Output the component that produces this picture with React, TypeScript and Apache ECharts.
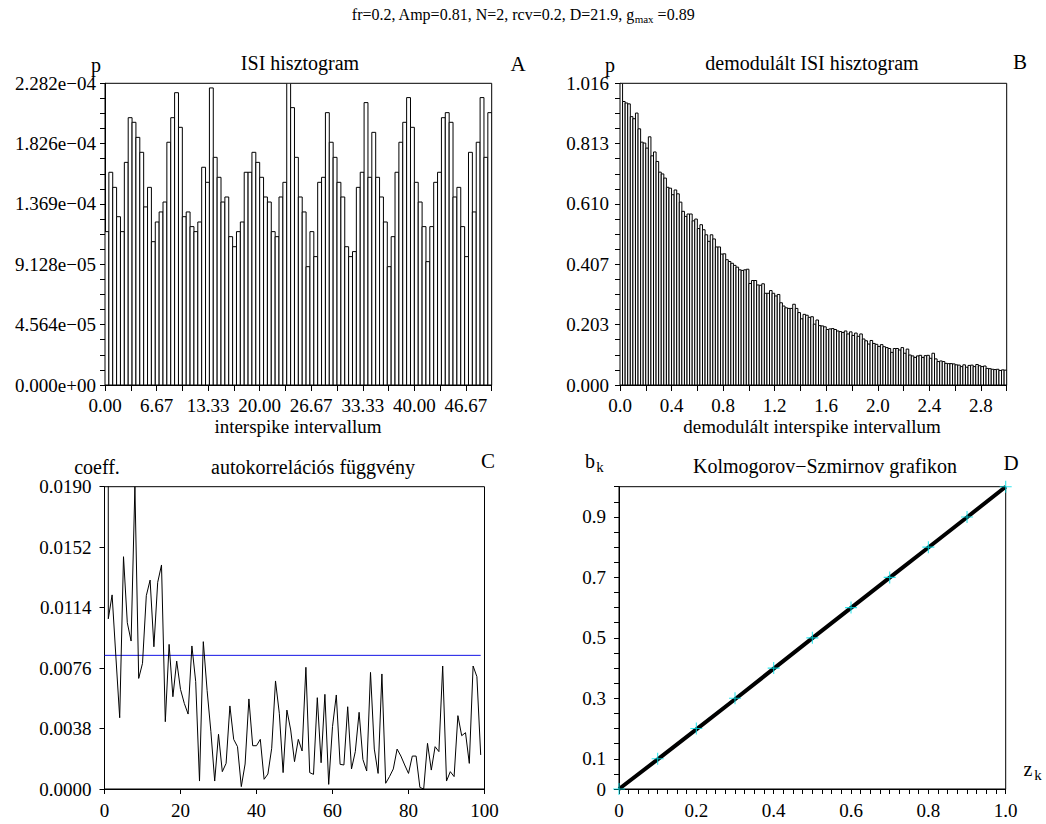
import React, { useEffect, useRef } from 'react';
import * as echarts from 'echarts';

// ---------- DATA ----------
// Panel A: ISI histogram (values ×1e-4), bin width 0.5, range 0..50
const isiBinWidth = 0.5;
const isiScale = 1e-4;
const isiValues = [
  1.160, 1.609, 1.495, 1.273, 1.160, 1.684, 2.022, 1.987, 1.873, 1.760,
  1.347, 1.495, 1.084, 1.233, 1.309, 1.384, 1.836, 2.022, 2.211, 1.949,
  1.273, 1.309, 1.198, 1.160, 1.233, 1.647, 1.533, 2.247, 1.722, 1.571,
  1.384, 1.422, 1.122, 1.046, 1.160, 1.233, 1.609, 1.609, 1.760, 1.684,
  1.571, 1.422, 1.384, 1.160, 1.122, 1.422, 1.533, 2.282, 2.098, 1.722,
  1.422, 1.309, 0.895, 1.160, 0.971, 1.533, 1.571, 2.060, 1.836, 1.722,
  1.533, 1.422, 1.046, 0.971, 1.009, 1.495, 1.609, 2.136, 1.571, 1.911,
  1.571, 1.422, 1.233, 0.895, 1.122, 1.609, 1.836, 1.987, 2.174, 1.949,
  1.533, 1.384, 1.198, 0.933, 1.198, 1.533, 1.609, 2.022, 2.060, 1.987,
  1.422, 1.495, 1.198, 0.971, 1.760, 1.309, 1.836, 2.174, 1.722, 2.060,
];
const isiXTicks = { min: 0, max: 50, step: 50 / 15 };
const isiYTicks = { min: 0, max: 2.282e-4, step: 4.564e-5 };

// Panel B: demodulated ISI histogram, bin width 0.02, range 0..3
const demBinWidth = 0.02;
const demValues = [
  1.016, 0.955, 0.950, 0.947, 0.904, 0.897, 0.916, 0.863, 0.818, 0.815,
  0.798, 0.836, 0.772, 0.785, 0.753, 0.717, 0.711, 0.697, 0.666, 0.663,
  0.641, 0.657, 0.644, 0.616, 0.585, 0.568, 0.576, 0.576, 0.553, 0.559,
  0.527, 0.540, 0.523, 0.506, 0.484, 0.506, 0.492, 0.465, 0.465, 0.441,
  0.442, 0.422, 0.416, 0.410, 0.403, 0.397, 0.388, 0.386, 0.388, 0.390,
  0.342, 0.352, 0.352, 0.337, 0.336, 0.341, 0.309, 0.309, 0.318, 0.309,
  0.300, 0.305, 0.277, 0.266, 0.260, 0.258, 0.258, 0.272, 0.258, 0.244,
  0.223, 0.238, 0.235, 0.228, 0.230, 0.205, 0.219, 0.200, 0.199, 0.196,
  0.187, 0.189, 0.190, 0.187, 0.182, 0.180, 0.177, 0.182, 0.172, 0.179,
  0.167, 0.175, 0.164, 0.172, 0.155, 0.149, 0.138, 0.150, 0.140, 0.137,
  0.130, 0.136, 0.129, 0.126, 0.123, 0.110, 0.123, 0.123, 0.118, 0.126,
  0.107, 0.121, 0.101, 0.098, 0.093, 0.098, 0.100, 0.093, 0.099, 0.100,
  0.090, 0.107, 0.088, 0.079, 0.081, 0.079, 0.073, 0.072, 0.072, 0.071,
  0.068, 0.067, 0.062, 0.068, 0.060, 0.066, 0.067, 0.062, 0.069, 0.065,
  0.062, 0.064, 0.056, 0.055, 0.053, 0.052, 0.053, 0.049, 0.051, 0.050,
];
const demXTicks = { min: 0, max: 3, step: 0.2 };
const demYTicks = { min: 0, max: 1.0163, step: 0.20326 };

// Panel C: autocorrelation by lag 0..99
const acfValues = [
  1, 0.0107, 0.0122, 0.0083, 0.00448, 0.0146, 0.01045, 0.0093, 0.0190, 0.00695,
  0.0079, 0.01215, 0.01313, 0.00894, 0.01299, 0.01408, 0.00423, 0.00909, 0.0058, 0.00804,
  0.00626, 0.00538, 0.00471, 0.00899, 0.00675, 0.0005, 0.00926, 0.0062, 0.0036, 0.0005,
  0.00344, 0.00109, 0.00161, 0.00522, 0.00312, 0.00266, 0.00015, 0.00157, 0.00566, 0.00272,
  0.00272, 0.00312, 0.00061, 0.00094, 0.00256, 0.00679, 0.00476, 0.00103, 0.00496, 0.00371,
  0.00172, 0.00312, 0.00239, 0.00765, 0.00103, 0.00092, 0.00574, 0.00165, 0.00595, 0.00029,
  0.00392, 0.00591, 0.00155, 0.00151, 0.00517, 0.00126, 0.00235, 0.00482, 0.00186, 0.00113,
  0.00733, 0.00251, 0.00098, 0.00723, 0.00036, 0.00078, 0.00126, 0.00251, 0.00207, 0.00151,
  0.00098, 0.00207, 0.00207, 0.0001, 0.0, 0.00287, 0.00119, 0.00266, 0.00235, 0.00773,
  0.0005, 0.00109, 0.00078, 0.00461, 0.00335, 0.00354, 0.00161, 0.00773, 0.00706, 0.00214,
];
const acfThreshold = 0.0084;
const acfThresholdRange = [0, 99];
const acfXTicks = { min: 0, max: 100, step: 20 };
const acfYTicks = { min: 0, max: 0.019, step: 0.0038 };

// Panel D: Kolmogorov–Smirnov plot
const ksZ = [0, 0.1, 0.2, 0.3, 0.4, 0.5, 0.6, 0.7, 0.8, 0.9, 1.0];
const ksB = [0, 0.098, 0.197, 0.297, 0.398, 0.499, 0.599, 0.699, 0.799, 0.899, 1.0];
const ksRefB = [0, 0.1, 0.2, 0.3, 0.4, 0.5, 0.6, 0.7, 0.8, 0.9, 1.0];

// Texts
const mainTitle = { pre: 'fr=0.2, Amp=0.81, N=2, rcv=0.2, D=21.9, g', sub: 'max', post: ' =0.89' };
const titles = ['ISI hisztogram', 'demodulált ISI hisztogram', 'autokorrelációs függvény', 'Kolmogorov−Szmirnov grafikon'];
const panelLetters = ['A', 'B', 'C', 'D'];
const xNames = ['interspike intervallum', 'demodulált interspike intervallum'];
const yNames = ['p', 'p', 'coeff.'];

// ---------- STYLE ----------
const FONT = "'Liberation Serif', 'Times New Roman', serif";
const TICK_FS = 19;
const TITLE_FS = 20;
const NAME_FS = 19;
const LETTER_FS = 21;

function sci(v: number): string {
  if (Math.abs(v) < 1e-20) return '0.000e+00';
  let e = Math.floor(Math.log10(Math.abs(v)));
  let ms = (v / Math.pow(10, e)).toFixed(3);
  if (parseFloat(ms) >= 10) { e += 1; ms = (v / Math.pow(10, e)).toFixed(3); }
  const sign = e < 0 ? '\u2212' : '+';
  const ab = Math.abs(e);
  return ms + 'e' + sign + (ab < 10 ? '0' + ab : '' + ab);
}

const labelStyle = (margin: number, formatter: any) => ({
  fontSize: TICK_FS, fontFamily: FONT, color: '#000', margin, formatter,
});

function valueAxis(gridIndex: number, t: { min: number; max: number; step: number }, fmt: any, margin: number, tickLen: number, minor: number) {
  return {
    type: 'value', gridIndex, min: t.min, max: t.max, interval: t.step,
    axisLine: { show: true, onZero: false, lineStyle: { color: '#000', width: 1 } },
    axisTick: { show: true, length: tickLen, lineStyle: { color: '#000', width: 1 } },
    minorTick: minor > 0 ? { show: true, splitNumber: minor, length: tickLen, lineStyle: { color: '#000', width: 1 } } : { show: false },
    splitLine: { show: false },
    minorSplitLine: { show: false },
    axisLabel: labelStyle(margin, fmt),
  };
}

function histRender(fill: string) {
  return (params: any, api: any) => {
    const x0 = api.value(0), x1 = api.value(1), y = api.value(2);
    const p0 = api.coord([x0, y]);
    const p1 = api.coord([x1, 0]);
    return {
      type: 'rect',
      shape: { x: p0[0], y: p0[1], width: p1[0] - p0[0], height: p1[1] - p0[1] },
      style: { fill, stroke: '#000', lineWidth: 1 },
    };
  };
}

function txt(text: string, x: number, y: number, fs: number, align = 'center') {
  return {
    type: 'text', x, y,
    style: { text, fontSize: fs, fontFamily: FONT, fill: '#000', textAlign: align, textVerticalAlign: 'middle' },
  };
}

const PLUS = 'path://M5,0 L6,0 L6,5 L11,5 L11,6 L6,6 L6,11 L5,11 L5,6 L0,6 L0,5 L5,5 Z';

export default function App() {
  const ref = useRef<HTMLDivElement>(null);
  useEffect(() => {
    const chart = echarts.init(ref.current!, null, { renderer: 'svg' });
    const isiData = isiValues.map((v, i) => [i * isiBinWidth, (i + 1) * isiBinWidth, v * isiScale]);
    const demData = demValues.map((v, i) => [i * demBinWidth, (i + 1) * demBinWidth, v]);
    const acfData = acfValues.map((v, i) => [i, v]);

    const fmtIsiX = (v: number) => { const k = Math.round(v / isiXTicks.step); return k % 2 === 0 ? v.toFixed(2) : ''; };
    const fmtDemX = (v: number) => { const k = Math.round(v / demXTicks.step); return k % 2 === 0 ? v.toFixed(1) : ''; };
    const fmtKsX = (v: number) => { const k = Math.round(v * 10); return k % 2 === 0 ? (k === 0 ? '0' : v.toFixed(1)) : ''; };
    const fmtKsY = (v: number) => { const k = Math.round(v * 10); if (k === 0) return '0'; return k % 2 === 1 ? v.toFixed(1) : ''; };

    const option: any = {
      animation: false,
      backgroundColor: '#fff',
      textStyle: { fontFamily: FONT },
      grid: [
        { left: 105, top: 83.3, width: 386.7, height: 301.7, show: true, borderColor: '#000', borderWidth: 1 },
        { left: 620, top: 83.3, width: 386.7, height: 301.7, show: true, borderColor: '#000', borderWidth: 1 },
        { left: 104.5, top: 486.7, width: 380, height: 302.3, show: true, borderColor: '#000', borderWidth: 1 },
        { left: 619, top: 486.7, width: 386.7, height: 302.3, show: true, borderColor: '#000', borderWidth: 1 },
      ],
      xAxis: [
        valueAxis(0, isiXTicks, fmtIsiX, 11, 6, 0),
        valueAxis(1, demXTicks, fmtDemX, 11, 6, 0),
        valueAxis(2, acfXTicks, (v: number) => String(Math.round(v)), 12, 5, 0),
        valueAxis(3, { min: 0, max: 1, step: 0.1 }, fmtKsX, 12, 5, 4),
      ],
      yAxis: [
        valueAxis(0, isiYTicks, sci, 9, 5, 4),
        valueAxis(1, demYTicks, (v: number) => v.toFixed(3), 11, 5, 4),
        valueAxis(2, acfYTicks, (v: number) => v.toFixed(4), 13, 5, 0),
        valueAxis(3, { min: 0, max: 1, step: 0.1 }, fmtKsY, 13, 5, 2),
      ],
      series: [
        {
          type: 'custom', xAxisIndex: 0, yAxisIndex: 0, data: isiData,
          encode: { x: [0, 1], y: 2 }, renderItem: histRender('#fff'), clip: true,
        },
        {
          type: 'custom', xAxisIndex: 1, yAxisIndex: 1, data: demData,
          encode: { x: [0, 1], y: 2 }, renderItem: histRender('#fff'), clip: true,
        },
        {
          type: 'line', xAxisIndex: 2, yAxisIndex: 2, data: acfData, symbol: 'none',
          lineStyle: { color: '#000', width: 1 }, clip: true, z: 3,
        },
        {
          type: 'line', xAxisIndex: 2, yAxisIndex: 2,
          data: [[acfThresholdRange[0], acfThreshold], [acfThresholdRange[1], acfThreshold]],
          symbol: 'none', lineStyle: { color: '#1414e6', width: 1 }, z: 2,
        },
        {
          type: 'line', xAxisIndex: 3, yAxisIndex: 3, data: ksZ.map((z, i) => [z, ksRefB[i]]),
          symbol: 'none', lineStyle: { color: '#00e0e8', width: 1.5 }, z: 2,
        },
        {
          type: 'line', xAxisIndex: 3, yAxisIndex: 3, data: ksZ.map((z, i) => [z, ksB[i]]),
          symbol: 'none', lineStyle: { color: '#000', width: 4 }, z: 3,
        },
        {
          type: 'scatter', xAxisIndex: 3, yAxisIndex: 3, data: ksZ.map((z, i) => [z, ksRefB[i]]),
          symbol: PLUS, symbolSize: 12, itemStyle: { color: '#00e0e8' }, z: 4, clip: false,
        },
      ],
      graphic: [
        {
          type: 'text', x: 523, y: 14,
          style: {
            text: '{n|' + mainTitle.pre + '}{s|' + mainTitle.sub + '}{n|' + mainTitle.post + '}',
            textAlign: 'center', textVerticalAlign: 'middle', fill: '#000',
            rich: {
              n: { fontSize: 16, fontFamily: FONT, fill: '#000', lineHeight: 20 },
              s: { fontSize: 11, fontFamily: FONT, fill: '#000', lineHeight: 20, padding: [9, 0, 0, 0] },
            },
          },
        },
        txt(yNames[0], 96, 65, TITLE_FS),
        txt(titles[0], 300, 63, TITLE_FS),
        txt(panelLetters[0], 518, 64, LETTER_FS),
        txt(yNames[1], 610, 65, TITLE_FS),
        txt(titles[1], 812, 63, TITLE_FS),
        txt(panelLetters[1], 1020, 62, LETTER_FS),
        txt(xNames[0], 298, 426, NAME_FS),
        txt(xNames[1], 812, 426, NAME_FS),
        txt(yNames[2], 97, 467, TITLE_FS),
        txt(titles[2], 313, 467, TITLE_FS),
        txt(panelLetters[2], 488, 461, LETTER_FS),
        txt('b', 590, 461, TITLE_FS),
        txt('k', 600, 467, 15),
        txt(titles[3], 825, 466, TITLE_FS),
        txt(panelLetters[3], 1011, 463, LETTER_FS),
        txt('z', 1028, 769, TITLE_FS),
        txt('k', 1038, 775, 15),
      ],
    };
    chart.setOption(option);
    return () => chart.dispose();
  }, []);
  return (
    <div
      ref={ref}
      style={{ position: 'fixed', left: 0, top: 0, width: 1046, height: 824, background: '#fff' }}
    />
  );
}
